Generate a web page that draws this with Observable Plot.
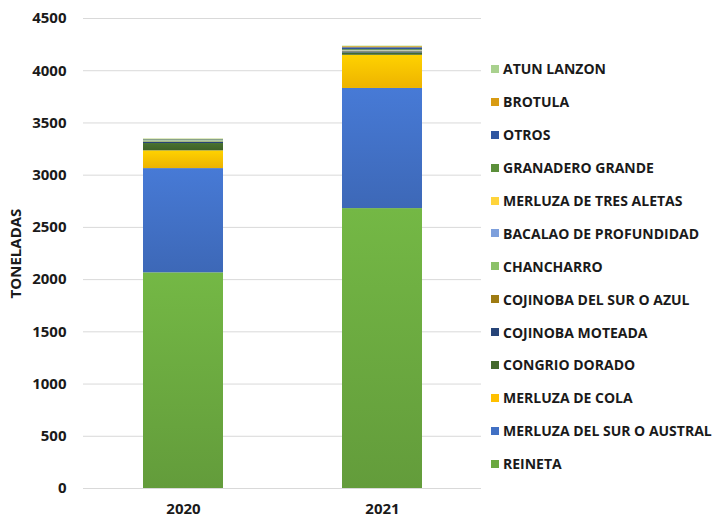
<!DOCTYPE html>
<html>
<head>
<meta charset="utf-8">
<script src="https://cdn.jsdelivr.net/npm/d3@7"></script>
<script src="https://cdn.jsdelivr.net/npm/@observablehq/plot@0.6"></script>
<style>
  html, body { margin: 0; padding: 0; background: #fff; }
  #wrap { position: relative; width: 712px; height: 518px; font-family: "Open Sans", Lato, sans-serif; }
  #legend { position: absolute; left: 491px; top: 52.5px; }
  .row { display: flex; align-items: center; height: 32.9px; font-weight: 700; font-size: 14px; color: #1a1a1a; white-space: nowrap; letter-spacing: 0px; }
  .sw { width: 8px; height: 8px; margin-right: 4px; flex: none; }
</style>
</head>
<body>
<div id="wrap"><div id="legend"></div></div>
<script>
// bottom-to-top stacking order
const years = ["2020", "2021"];
const series = [
  "REINETA",
  "MERLUZA DEL SUR O AUSTRAL",
  "MERLUZA DE COLA",
  "CONGRIO DORADO",
  "COJINOBA MOTEADA",
  "COJINOBA DEL SUR O AZUL",
  "CHANCHARRO",
  "BACALAO DE PROFUNDIDAD",
  "MERLUZA DE TRES ALETAS",
  "GRANADERO GRANDE",
  "OTROS",
  "BROTULA",
  "ATUN LANZON"
];
const values2020 = [2065, 998, 170, 70, 12, 3, 10, 3, 2, 5, 3, 2, 4];
const values2021 = [2680, 1150, 318, 22, 10, 3, 3, 5, 3, 8, 18, 10, 6];
const colors = [
  "#6aa83f", "#4170c4", "#ffc000", "#43682b", "#264478", "#9e7b12",
  "#8cc168", "#7d9fdc", "#ffd43b", "#5b8f3a", "#2f56a0", "#d89b12", "#a9d18e"
];
const yTicks = [0, 500, 1000, 1500, 2000, 2500, 3000, 3500, 4000, 4500];

const data = [];
series.forEach((s, i) => {
  data.push({year: years[0], species: s, value: values2020[i]});
  data.push({year: years[1], species: s, value: values2021[i]});
});

const font = "'Open Sans', Lato, sans-serif";
const chart = Plot.plot({
  width: 712,
  height: 518,
  marginLeft: 83,
  marginRight: 231,
  marginTop: 18,
  marginBottom: 30,
  style: {fontFamily: font, fontSize: "14px", fontWeight: "700", color: "#1a1a1a", background: "#fff"},
  x: {domain: years, paddingInner: 0.6, paddingOuter: 0.3, label: null},
  y: {domain: [0, 4500], ticks: yTicks, label: "TONELADAS", labelAnchor: "center", labelArrow: "none"},
  color: {domain: series, range: colors},
  marks: [
    Plot.gridY(yTicks, {stroke: "#d9d9d9", strokeOpacity: 1, strokeWidth: 1}),
    Plot.barY(data, {x: "year", y: "value", fill: "species", order: series}),
    Plot.axisY({ticks: yTicks, tickFormat: d3.format("d"), tickSize: 0, tickPadding: 17, label: "TONELADAS", labelAnchor: "center", labelArrow: "none", labelOffset: 73, fontSize: 15, fontWeight: 700}),
    Plot.axisX({tickSize: 0, tickPadding: 15, label: null, fontSize: 15, fontWeight: 700})
  ]
});

// vertical gradient per fill colour (lighter at top, darker at bottom)
const ns = "http://www.w3.org/2000/svg";
const defs = document.createElementNS(ns, "defs");
chart.insertBefore(defs, chart.firstChild);
const gid = new Map();
colors.forEach((c, i) => {
  const g = document.createElementNS(ns, "linearGradient");
  g.setAttribute("id", "grad" + i);
  g.setAttribute("x1", "0"); g.setAttribute("y1", "0");
  g.setAttribute("x2", "0"); g.setAttribute("y2", "1");
  const s1 = document.createElementNS(ns, "stop");
  s1.setAttribute("offset", "0"); s1.setAttribute("stop-color", d3.color(c).brighter(0.25).formatHex());
  const s2 = document.createElementNS(ns, "stop");
  s2.setAttribute("offset", "1"); s2.setAttribute("stop-color", d3.color(c).darker(0.2).formatHex());
  g.appendChild(s1); g.appendChild(s2);
  defs.appendChild(g);
  gid.set(d3.color(c).formatHex(), "grad" + i);
});
chart.querySelectorAll("rect").forEach(r => {
  const f = r.getAttribute("fill");
  if (!f) return;
  const c = d3.color(f);
  if (!c) return;
  const id = gid.get(c.formatHex());
  if (id) r.setAttribute("fill", `url(#${id})`);
});

const wrap = document.getElementById("wrap");
wrap.insertBefore(chart, wrap.firstChild);

// legend: top entry is last series
const legend = document.getElementById("legend");
for (let i = series.length - 1; i >= 0; i--) {
  const row = document.createElement("div");
  row.className = "row";
  const sw = document.createElement("span");
  sw.className = "sw";
  sw.style.background = colors[i];
  const t = document.createElement("span");
  t.textContent = series[i];
  row.appendChild(sw); row.appendChild(t);
  legend.appendChild(row);
}
</script>
</body>
</html>
